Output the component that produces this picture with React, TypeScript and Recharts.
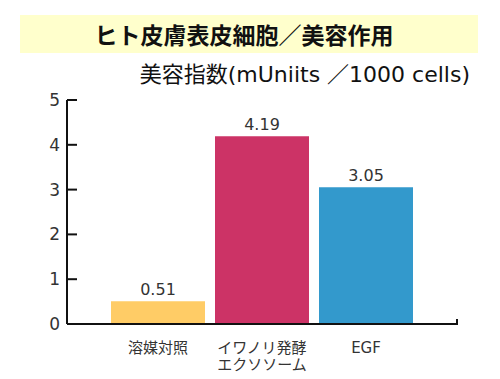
import { BarChart, Bar, XAxis, YAxis, Cell, LabelList } from "recharts";

const categories = ["溶媒対照", "イワノリ発酵\nエクソソーム", "EGF"];
const values = [0.51, 4.19, 3.05];
const barColors = ["#FFCC66", "#CC3366", "#3399CC"];
const yTicks = [0, 1, 2, 3, 4, 5];

const data = categories.map((name, i) => ({ name, value: values[i] }));

const FONT = '"DejaVu Sans", "Noto Sans CJK JP", sans-serif';

function YTick({ x, y, payload }: any) {
  return (
    <g>
      <line x1={x} x2={x + 10} y1={y} y2={y} stroke="#111" strokeWidth={2} />
      <text x={x - 7} y={y} dy={6} textAnchor="end" fontSize={17} fill="#333">
        {payload.value}
      </text>
    </g>
  );
}

function XTick({ x, y, payload }: any) {
  const lines = String(payload.value).split("\n");
  return (
    <text x={x} y={y} textAnchor="middle" fontSize={15} fill="#333">
      {lines.map((l, i) => (
        <tspan key={i} x={x} dy={i === 0 ? 29 : 17}>
          {l}
        </tspan>
      ))}
    </text>
  );
}

export default function App() {
  return (
    <div
      style={{
        position: "absolute",
        left: 0,
        top: 0,
        width: 500,
        height: 379,
        background: "#fff",
        fontFamily: FONT,
      }}
    >
      <div
        style={{
          position: "absolute",
          left: 20,
          top: 15,
          width: 458,
          height: 38,
          background: "#FFFFCC",
        }}
      />
      <div
        style={{
          position: "absolute",
          left: 20,
          top: 15,
          width: 448,
          height: 38,
          lineHeight: "38px",
          textAlign: "center",
          fontSize: 23,
          fontWeight: 700,
          color: "#111",
          fontFamily: '"Noto Sans CJK JP", sans-serif',
        }}
      >
        ヒト皮膚表皮細胞／美容作用
      </div>
      <div
        style={{
          position: "absolute",
          left: 0,
          width: 470,
          top: 60,
          height: 30,
          lineHeight: "30px",
          textAlign: "right",
          fontSize: 22,
          color: "#111",
          whiteSpace: "nowrap",
        }}
      >
        美容指数(mUniits ／1000 cells)
      </div>
      <div style={{ position: "absolute", left: 0, top: 0 }}>
        <BarChart
          width={500}
          height={379}
          data={data}
          margin={{ top: 100, right: 43, bottom: 25, left: 7 }}
          style={{ fontFamily: FONT }}
        >
          <XAxis
            dataKey="name"
            height={30}
            padding={{ left: 39, right: 39 }}
            axisLine={{ stroke: "#111", strokeWidth: 2 }}
            tickLine={false}
            tickSize={0}
            tickMargin={0}
            tick={<XTick />}
            interval={0}
          />
          <YAxis
            width={60}
            domain={[0, 5]}
            ticks={yTicks}
            axisLine={{ stroke: "#111", strokeWidth: 2 }}
            tickLine={false}
            tickSize={0}
            tickMargin={0}
            tick={<YTick />}
            interval={0}
          />
          <Bar dataKey="value" barSize={94} isAnimationActive={false}>
            {data.map((d, i) => (
              <Cell key={d.name} fill={barColors[i]} />
            ))}
            <LabelList dataKey="value" position="top" offset={6} fontSize={16} fill="#333" />
          </Bar>
        </BarChart>
      </div>
      <div
        style={{
          position: "absolute",
          left: 456,
          top: 319,
          width: 2,
          height: 6,
          background: "#111",
        }}
      />
    </div>
  );
}
